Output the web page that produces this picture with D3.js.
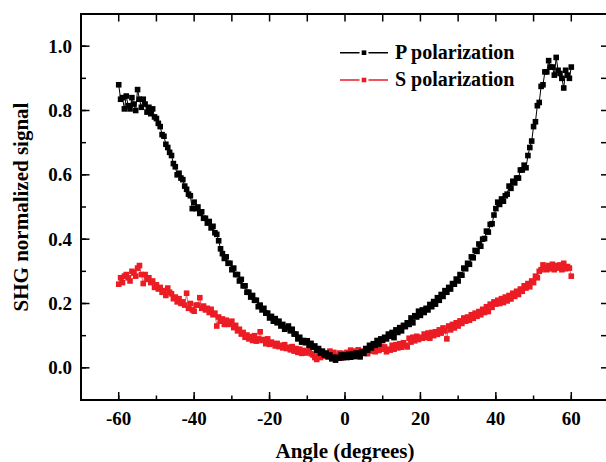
<!DOCTYPE html>
<html>
<head>
<meta charset="utf-8">
<script src="https://cdn.jsdelivr.net/npm/d3@7"></script>
<style>
body { margin: 0; background: #fff; }
svg text { font-family: "Liberation Serif", "Times New Roman", serif; font-weight: bold; fill: #000; }
</style>
</head>
<body>
<div id="a"></div>
<script>
// angle grid, half degree steps from -60 to 60
var angles = d3.range(-60, 60.25, 0.5);

// P polarization
var pValues = [
	0.88, 0.835, 0.84, 0.805, 0.845, 0.815, 0.805, 0.84, 0.82, 0.80,
	0.865, 0.835, 0.81, 0.835, 0.82, 0.795, 0.81, 0.79, 0.805, 0.78,
	0.775, 0.76, 0.75, 0.725, 0.72, 0.695, 0.685, 0.67, 0.66, 0.635,
	0.625, 0.60, 0.605, 0.59, 0.585, 0.565, 0.555, 0.54, 0.535, 0.495,
	0.515, 0.495, 0.50, 0.48, 0.485, 0.465, 0.465, 0.45, 0.455, 0.435,
	0.44, 0.42, 0.415, 0.395, 0.37, 0.355, 0.34, 0.345, 0.325, 0.325,
	0.305, 0.31, 0.29, 0.29, 0.27, 0.275, 0.255, 0.255, 0.235, 0.235,
	0.22, 0.225, 0.21, 0.21, 0.19, 0.195, 0.18, 0.185, 0.17, 0.17,
	0.155, 0.16, 0.145, 0.153, 0.14, 0.145, 0.13, 0.135, 0.12, 0.125,
	0.13, 0.115, 0.12, 0.105, 0.105, 0.09, 0.095, 0.08, 0.085, 0.078,
	0.084, 0.07, 0.076, 0.064, 0.068, 0.055, 0.06, 0.046, 0.052, 0.04,
	0.046, 0.034, 0.04, 0.028, 0.033, 0.024, 0.032, 0.03, 0.04, 0.032,
	0.04, 0.032, 0.042, 0.033, 0.044, 0.035, 0.046, 0.038, 0.034, 0.05,
	0.045, 0.06, 0.055, 0.07, 0.062, 0.075, 0.07, 0.085, 0.074, 0.09,
	0.085, 0.095, 0.09, 0.105, 0.098, 0.11, 0.094, 0.118, 0.11, 0.125,
	0.115, 0.132, 0.128, 0.14, 0.135, 0.155, 0.14, 0.162, 0.158, 0.176,
	0.163, 0.18, 0.172, 0.185, 0.18, 0.197, 0.19, 0.206, 0.198, 0.218,
	0.21, 0.228, 0.222, 0.24, 0.235, 0.25, 0.245, 0.262, 0.26, 0.276,
	0.27, 0.29, 0.288, 0.31, 0.308, 0.325, 0.322, 0.345, 0.342, 0.365,
	0.362, 0.385, 0.378, 0.4, 0.402, 0.425, 0.422, 0.446, 0.448, 0.475,
	0.495, 0.515, 0.508, 0.525, 0.518, 0.535, 0.54, 0.565, 0.558, 0.58,
	0.575, 0.59, 0.59, 0.615, 0.615, 0.63, 0.622, 0.66, 0.685, 0.705,
	0.75, 0.765, 0.815, 0.825, 0.875, 0.88, 0.92, 0.92, 0.955, 0.935,
	0.935, 0.91, 0.965, 0.925, 0.915, 0.9, 0.87, 0.925, 0.91, 0.9,
	0.935
];

// S polarization
var sValues = [
	0.26, 0.28, 0.265, 0.285, 0.29, 0.28, 0.27, 0.3, 0.295, 0.285,
	0.31, 0.318, 0.29, 0.262, 0.29, 0.275, 0.28, 0.265, 0.27, 0.25,
	0.258, 0.245, 0.25, 0.235, 0.24, 0.225, 0.248, 0.235, 0.23, 0.215,
	0.22, 0.205, 0.215, 0.2, 0.205, 0.195, 0.232, 0.185, 0.2, 0.18,
	0.176, 0.195, 0.195, 0.218, 0.185, 0.192, 0.18, 0.185, 0.172, 0.182,
	0.165, 0.17, 0.13, 0.158, 0.145, 0.152, 0.135, 0.148, 0.135, 0.14,
	0.145, 0.125, 0.132, 0.115, 0.12, 0.105, 0.11, 0.095, 0.102, 0.09,
	0.097, 0.085, 0.1, 0.083, 0.09, 0.112, 0.085, 0.088, 0.075, 0.09,
	0.073, 0.08, 0.075, 0.068, 0.076, 0.066, 0.07, 0.062, 0.072, 0.06,
	0.064, 0.056, 0.066, 0.052, 0.06, 0.048, 0.058, 0.045, 0.054, 0.046,
	0.05, 0.06, 0.044, 0.04, 0.032, 0.026, 0.045, 0.032, 0.05, 0.036,
	0.043, 0.036, 0.052, 0.036, 0.048, 0.038, 0.032, 0.046, 0.03, 0.045,
	0.04, 0.048, 0.036, 0.055, 0.036, 0.052, 0.04, 0.056, 0.038, 0.052,
	0.045, 0.058, 0.044, 0.06, 0.052, 0.062, 0.05, 0.064, 0.054, 0.066,
	0.058, 0.065, 0.05, 0.058, 0.055, 0.07, 0.058, 0.072, 0.062, 0.075,
	0.064, 0.078, 0.07, 0.065, 0.092, 0.08, 0.095, 0.084, 0.098, 0.088,
	0.095, 0.092, 0.105, 0.094, 0.108, 0.092, 0.11, 0.1, 0.112, 0.104,
	0.118, 0.108, 0.124, 0.115, 0.09, 0.13, 0.118, 0.135, 0.124, 0.14,
	0.13, 0.146, 0.138, 0.155, 0.145, 0.158, 0.148, 0.165, 0.154, 0.17,
	0.16, 0.175, 0.165, 0.182, 0.172, 0.19, 0.175, 0.198, 0.188, 0.205,
	0.198, 0.21, 0.2, 0.215, 0.203, 0.22, 0.208, 0.225, 0.214, 0.232,
	0.222, 0.238, 0.228, 0.245, 0.238, 0.255, 0.248, 0.262, 0.252, 0.27,
	0.265, 0.285, 0.28, 0.3, 0.305, 0.32, 0.312, 0.305, 0.318, 0.308,
	0.322, 0.305, 0.318, 0.31, 0.32, 0.305, 0.325, 0.308, 0.315, 0.31,
	0.285
];

var xTicks = [-60, -40, -20, 0, 20, 40, 60],
	yTicks = [0, 0.2, 0.4, 0.6, 0.8, 1.0],
	seriesNames = ["P polarization", "S polarization"],
	seriesColors = ["#000000", "#ec1c24"];

// plot box (window.top is reserved, so own names here)
var w = 606, h = 462,
	boxL = 81, boxR = 609, boxT = 14, boxB = 400;

var x = d3.scaleLinear().domain([-70, 70]).range([boxL, boxR]),
	y = d3.scaleLinear().domain([-0.1, 1.1]).range([boxB, boxT]);

var svg = d3.select("#a").append("svg")
	.attr("width", w)
	.attr("height", h);

// frame
svg.append("rect")
	.attr("x", boxL).attr("y", boxT)
	.attr("width", boxR - boxL).attr("height", boxB - boxT)
	.attr("fill", "none").attr("stroke", "#000").attr("stroke-width", 2);

var minorX = d3.range(-70, 71, 10),
	minorY = d3.range(-0.1, 1.11, 0.1).map(function(v){ return +v.toFixed(2); });

// bottom axis: major ticks labelled, minor ticks shorter, all pointing in
var gx = svg.append("g").attr("transform", "translate(0," + boxB + ")");
gx.selectAll(".minor").data(minorX).enter().append("line")
	.attr("x1", function(d){ return x(d); }).attr("x2", function(d){ return x(d); })
	.attr("y1", 0).attr("y2", -4.5)
	.attr("stroke", "#000").attr("stroke-width", 1.5);
gx.selectAll(".major").data(xTicks).enter().append("line")
	.attr("x1", function(d){ return x(d); }).attr("x2", function(d){ return x(d); })
	.attr("y1", 0).attr("y2", -8)
	.attr("stroke", "#000").attr("stroke-width", 1.5);
gx.selectAll("text").data(xTicks).enter().append("text")
	.attr("x", function(d){ return x(d); })
	.attr("y", 25)
	.attr("text-anchor", "middle")
	.attr("font-size", 19)
	.text(function(d){ return d; });

// left axis
var gy = svg.append("g").attr("transform", "translate(" + boxL + ",0)");
gy.selectAll(".minor").data(minorY).enter().append("line")
	.attr("y1", function(d){ return y(d); }).attr("y2", function(d){ return y(d); })
	.attr("x1", 0).attr("x2", 5)
	.attr("stroke", "#000").attr("stroke-width", 1.5);
gy.selectAll(".major").data(yTicks).enter().append("line")
	.attr("y1", function(d){ return y(d); }).attr("y2", function(d){ return y(d); })
	.attr("x1", 0).attr("x2", 8.5)
	.attr("stroke", "#000").attr("stroke-width", 1.5);
gy.selectAll("text").data(yTicks).enter().append("text")
	.attr("x", -9)
	.attr("y", function(d){ return y(d); })
	.attr("dy", "0.35em")
	.attr("text-anchor", "end")
	.attr("font-size", 19)
	.text(function(d){ return d3.format(".1f")(d); });

// top and right: plain ticks, no labels
svg.append("g").selectAll("line").data(minorX).enter().append("line")
	.attr("x1", function(d){ return x(d); }).attr("x2", function(d){ return x(d); })
	.attr("y1", boxT).attr("y2", boxT + 7.5)
	.attr("stroke", "#000").attr("stroke-width", 1.5);
svg.append("g").selectAll("line").data(minorY).enter().append("line")
	.attr("y1", function(d){ return y(d); }).attr("y2", function(d){ return y(d); })
	.attr("x1", boxR).attr("x2", boxR - 8)
	.attr("stroke", "#000").attr("stroke-width", 1.5);

// axis titles
svg.append("text")
	.attr("x", (boxL + boxR) / 2)
	.attr("y", 458)
	.attr("text-anchor", "middle")
	.attr("font-size", 21)
	.text("Angle (degrees)");

svg.append("text")
	.attr("transform", "translate(28," + (boxT + boxB) / 2 + ") rotate(-90)")
	.attr("text-anchor", "middle")
	.attr("font-size", 21)
	.text("SHG normalized signal");

// data
var line = d3.line()
	.x(function(d){ return x(d[0]); })
	.y(function(d){ return y(d[1]); });

var sets = [pValues, sValues].map(function(vals){
	return angles.map(function(a, i){ return [a, vals[i]]; });
});

// S first so P sits on top
[1, 0].forEach(function(k){
	var g = svg.append("g");
	g.append("path")
		.attr("d", line(sets[k]))
		.attr("fill", "none")
		.attr("stroke", seriesColors[k])
		.attr("stroke-width", k == 0 ? 1 : 0.7);
	g.selectAll("rect").data(sets[k]).enter().append("rect")
		.attr("x", function(d){ return x(d[0]) - 2.8; })
		.attr("y", function(d){ return y(d[1]) - 2.8; })
		.attr("width", 5.6).attr("height", 5.6)
		.attr("fill", seriesColors[k]);
});

// legend
var leg = svg.append("g");
seriesNames.forEach(function(name, i){
	var ly = 52.7 + i * 27.3;
	leg.append("line")
		.attr("x1", 340).attr("x2", 388)
		.attr("y1", ly).attr("y2", ly)
		.attr("stroke", seriesColors[i]).attr("stroke-width", 1.4);
	leg.append("rect")
		.attr("x", 364 - 4.5).attr("y", ly - 3)
		.attr("width", 9).attr("height", 6)
		.attr("fill", "#fff");
	leg.append("rect")
		.attr("x", 364 - 2.3).attr("y", ly - 2.3)
		.attr("width", 4.6).attr("height", 4.6)
		.attr("fill", seriesColors[i]);
	leg.append("text")
		.attr("x", 395)
		.attr("y", ly + 6.3)
		.attr("font-size", 20)
		.text(name);
});
</script>
</body>
</html>
